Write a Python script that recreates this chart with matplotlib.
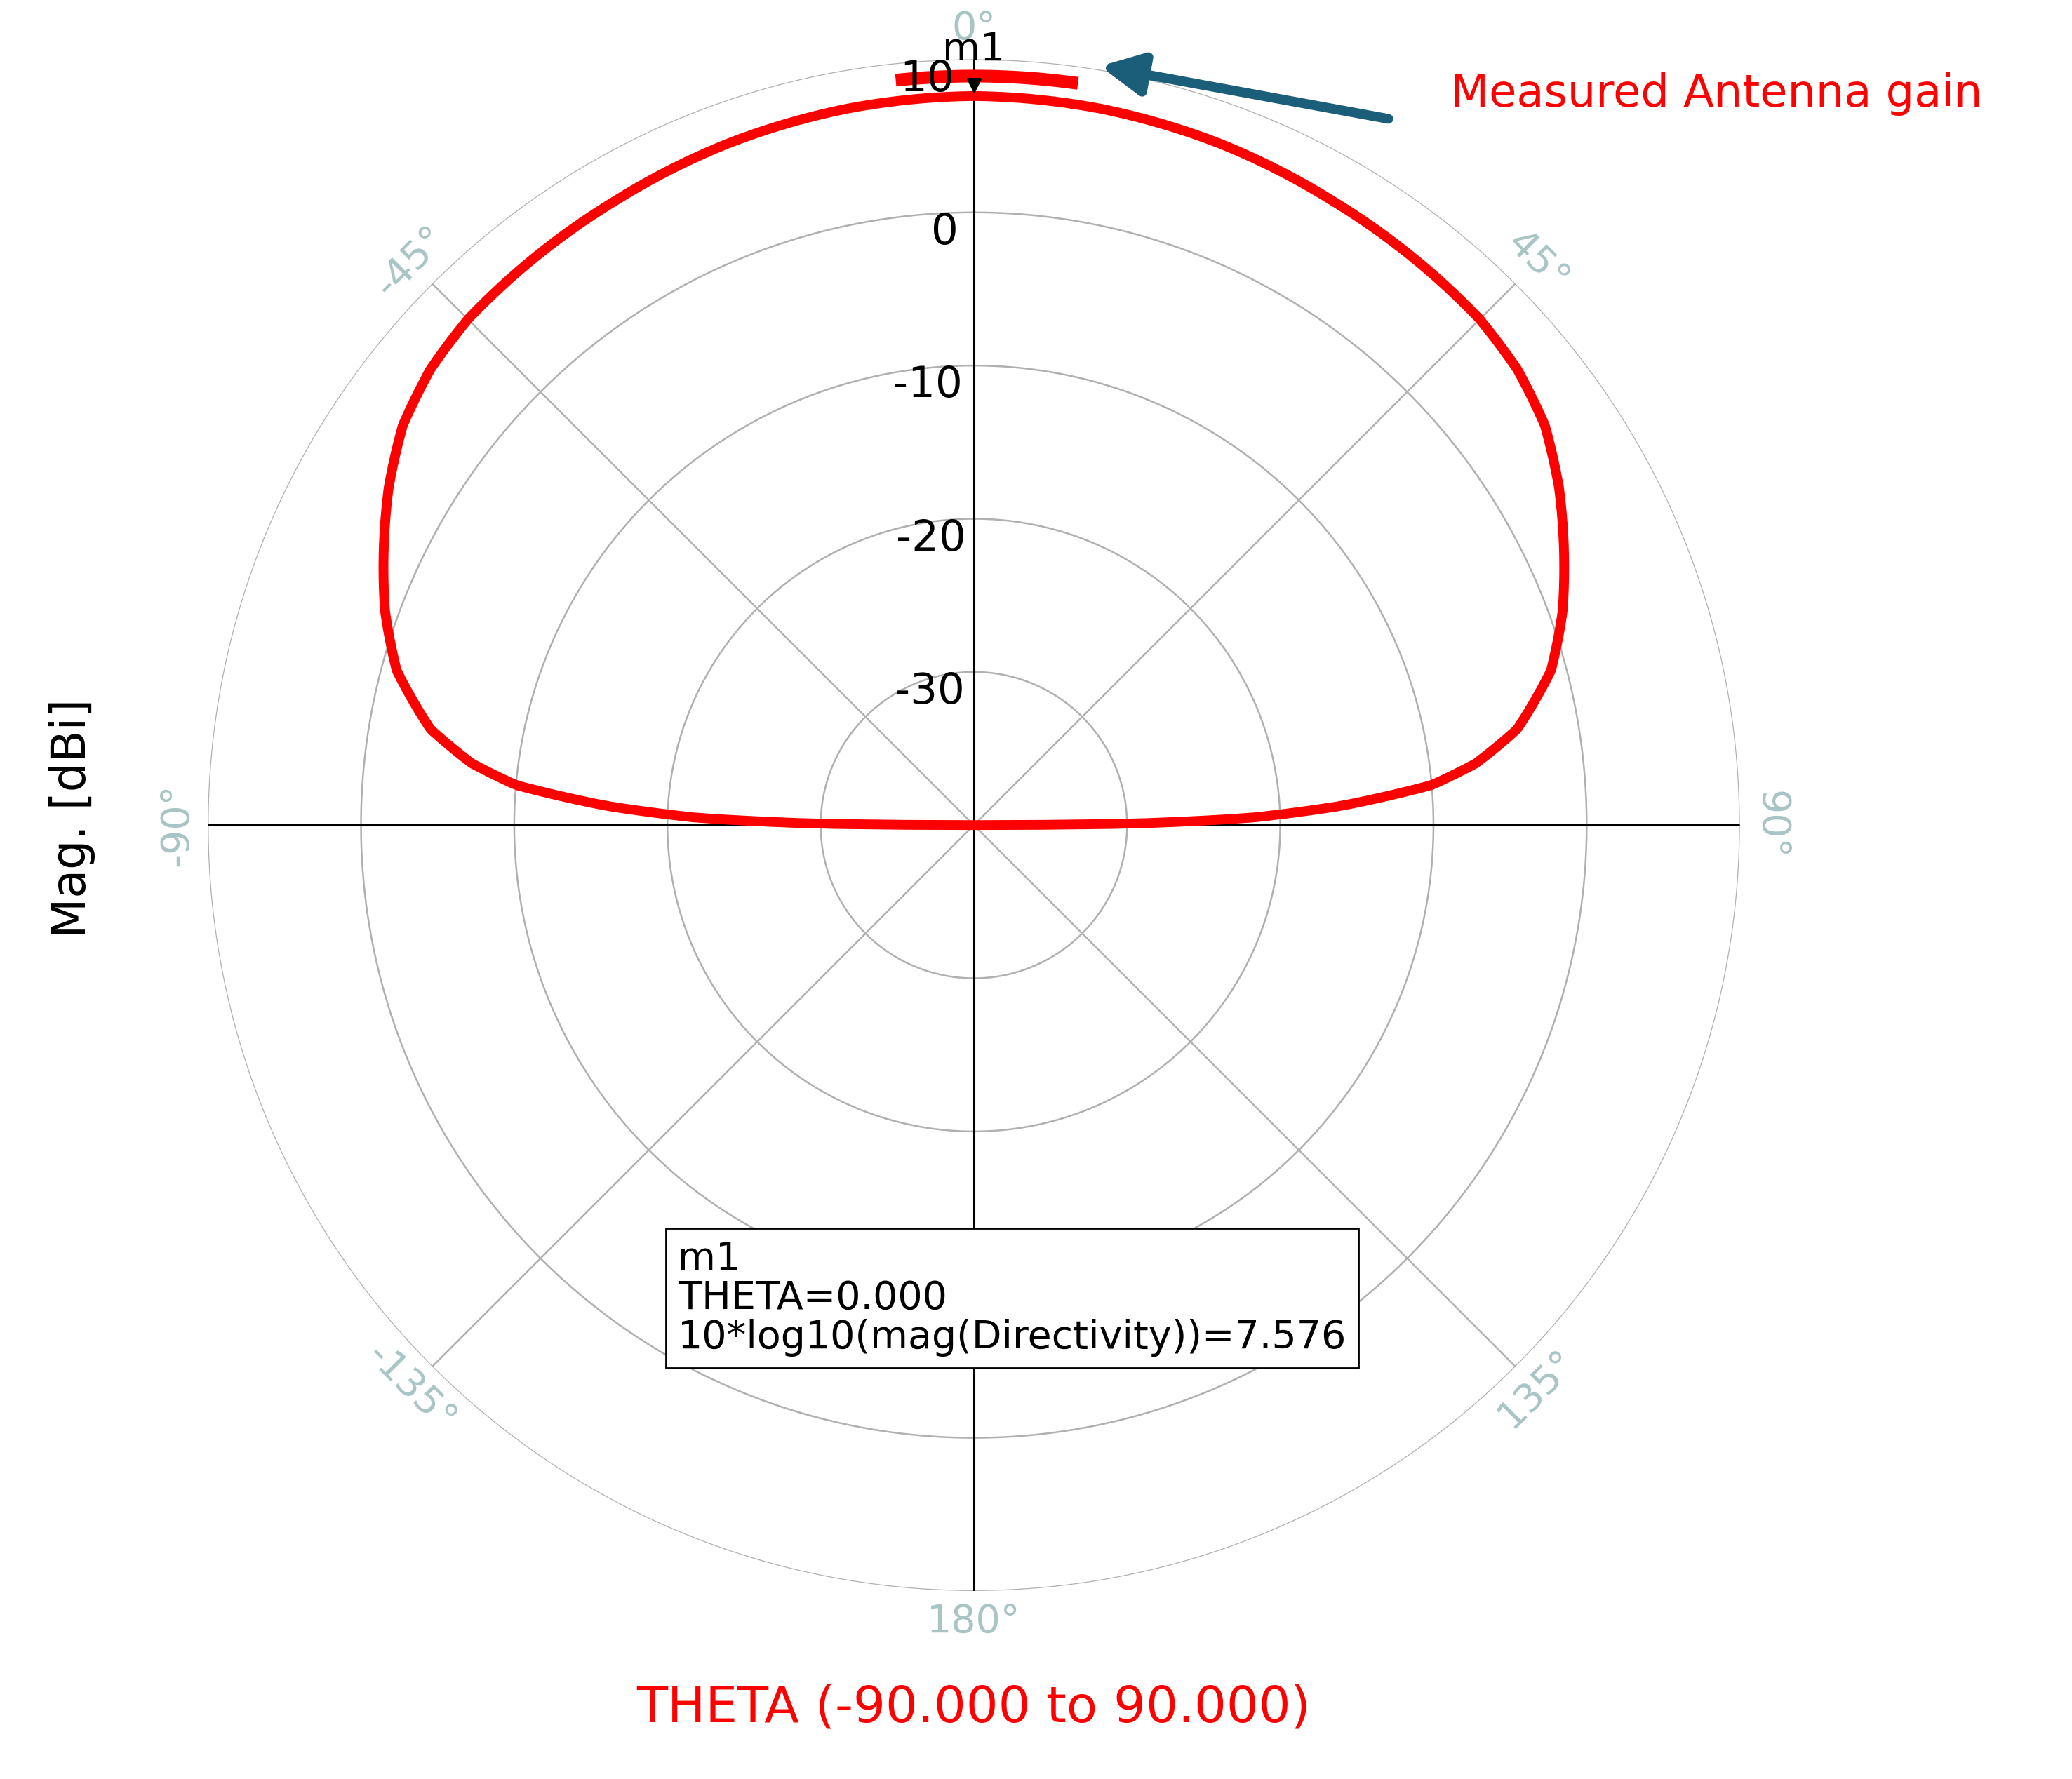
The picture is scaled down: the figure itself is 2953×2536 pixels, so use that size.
import numpy as np
import matplotlib.pyplot as plt

# pattern (right half, mirrored for left)
theta_deg = [0, 10, 20, 30, 40, 45, 50, 55, 60, 65, 70, 75, 80, 83, 85, 87, 88.5, 89.5, 90]
gain_db = [7.6, 7.5, 7.3, 7.0, 6.8, 6.7, 6.3, 5.5, 4.1, 2.5, 0.9, -1.0, -4.0, -7.0, -10.0, -16.0, -22.0, -30.0, -40.0]
r_ticks = [10, 0, -10, -20, -30, -40]
ang_ticks = {0: "0°", 45: "45°", 90: "90°", 135: "135°", 180: "180°", -135: "-135°", -90: "-90°", -45: "-45°"}

# densify along the read points so the trace looks smooth
half_t = np.linspace(0, 90, 400)
half_g = np.interp(half_t, theta_deg, gain_db)
th = np.radians(np.concatenate([-half_t[::-1], half_t[1:]]))
g = np.concatenate([half_g[::-1], half_g[1:]])

fig = plt.figure(figsize=(29.53, 25.36), dpi=100)
ax = fig.add_axes([0.100, 0.1057, 0.740, 0.861], projection="polar")
ax.set_theta_zero_location("N")
ax.set_theta_direction(-1)
ax.set_rlim(-40, 10)
ax.set_xticks([])
ax.set_yticks([])
ax.grid(False)
ax.spines["polar"].set_visible(False)

grid_c = "#b0b0b0"
full = np.linspace(0, 2 * np.pi, 400)
for rv in [-30, -20, -10, 0, 10]:
    ax.plot(full, [rv] * len(full), color=grid_c, lw=1.8)
for a in [45, 135]:
    ax.plot([np.radians(a), np.radians(a + 180)], [10, 10], color=grid_c, lw=1.8)
for a in [0, 90]:
    ax.plot([np.radians(a), np.radians(a + 180)], [10, 10], color="black", lw=2.2)

for rv in r_ticks:
    ax.text(np.radians(-1.5 if rv > -30 else -4), rv - 1.3, str(rv), fontsize=44,
            ha="right", va="center")

lab_c = "#a8c4c4"
for a, s in ang_ticks.items():
    rot = -a if abs(a) <= 90 else 180 - a
    if a == 180:
        rot = 0
    ax.text(np.radians(a), 12.0, s, fontsize=40, color=lab_c, ha="center", va="center",
            rotation=rot, rotation_mode="anchor")

ax.plot(th, g, color="red", lw=10, solid_capstyle="butt")
# overlapping trace near the main lobe peak
seg = np.radians(np.linspace(-5.5, 7.5, 30))
ax.plot(seg, [8.9] * len(seg), color="red", lw=13)

ax.plot([0], [8.3], marker="v", color="black", ms=14)
ax.text(0, 9.4, "m1", fontsize=40, ha="center", va="bottom")

fig.text(0.327, 0.303,
         "m1\nTHETA=0.000\n10*log10(mag(Directivity))=7.576",
         fontsize=40, ha="left", va="top", linespacing=1.05,
         bbox=dict(boxstyle="square,pad=0.3", fc="white", ec="black", lw=2))

fig.text(0.70, 0.947, "Measured Antenna gain", fontsize=46, color="red", va="center")
fig.add_artist(plt.matplotlib.patches.FancyArrowPatch(
    (0.671, 0.933), (0.530, 0.963), transform=fig.transFigure,
    arrowstyle="-|>,head_length=0.9,head_width=0.45", mutation_scale=40,
    color="#1b5e7a", lw=10))

fig.text(0.035, 0.54, "Mag. [dBi]", fontsize=48, rotation=90, ha="center", va="center")
fig.text(0.47, 0.04, "THETA (-90.000 to 90.000)", fontsize=52, color="red", ha="center", va="center")

fig.savefig("out.png", dpi=100, facecolor="white")
